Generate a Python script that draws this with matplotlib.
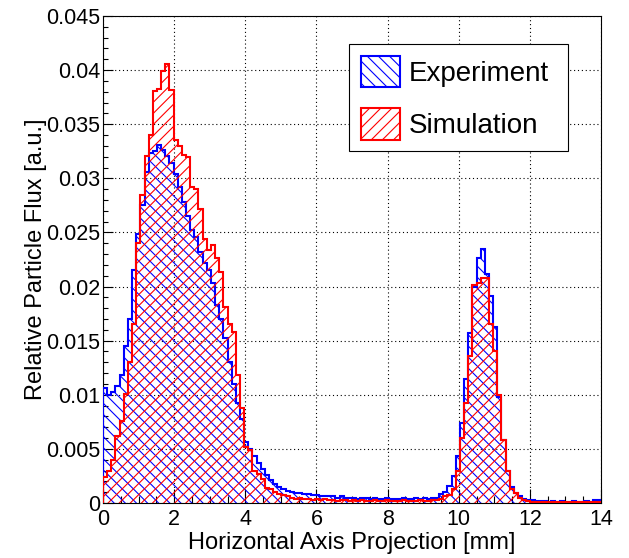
import numpy as np
import matplotlib
matplotlib.use('Agg')
import matplotlib.pyplot as plt
from matplotlib.patches import Patch
from matplotlib.ticker import MultipleLocator, FuncFormatter

# histogram range: 120 bins over 0..14 mm
x_min, x_max, n_bins = 0.0, 14.0, 120

experiment = [
    0.0106, 0.0100, 0.0103, 0.0108, 0.0118, 0.0145, 0.0170, 0.0215, 0.0249, 0.0275,
    0.0306, 0.0323, 0.0325, 0.0331, 0.0326, 0.0321, 0.0314, 0.0304, 0.0292, 0.0278,
    0.0265, 0.0252, 0.0246, 0.0232, 0.0222, 0.0215, 0.0203, 0.0183, 0.0170, 0.0152,
    0.0130, 0.0110, 0.0092, 0.0078, 0.0056, 0.0050, 0.0043, 0.0037, 0.0031, 0.0026,
    0.0021, 0.0018, 0.0015, 0.0013, 0.0011, 0.0010, 0.0009, 0.0009, 0.0008, 0.0008,
    0.0007, 0.0007, 0.0006, 0.0006, 0.0006, 0.0006, 0.0005, 0.0006, 0.0005, 0.0005,
    0.0005, 0.0004, 0.0005, 0.0005, 0.0004, 0.0005, 0.0004, 0.0004, 0.0005, 0.0004,
    0.0004, 0.0004, 0.0005, 0.0004, 0.0004, 0.0005, 0.0004, 0.0005, 0.0004, 0.0005,
    0.0005, 0.0008, 0.0010, 0.0016, 0.0025, 0.0043, 0.0074, 0.0115, 0.0157, 0.0200,
    0.0226, 0.0235, 0.0212, 0.0191, 0.0163, 0.0098, 0.0058, 0.0030, 0.0015, 0.0009,
    0.0006, 0.0004, 0.0003, 0.0003, 0.0002, 0.0002, 0.0002, 0.0001, 0.0002, 0.0001,
    0.0002, 0.0001, 0.0001, 0.0002, 0.0001, 0.0001, 0.0002, 0.0001, 0.0003, 0.0003,
]

simulation = [
    0.0024, 0.0030, 0.0040, 0.0062, 0.0076, 0.0101, 0.0130, 0.0165, 0.0240, 0.0285,
    0.0321, 0.0340, 0.0381, 0.0383, 0.0399, 0.0406, 0.0382, 0.0335, 0.0330, 0.0322,
    0.0320, 0.0292, 0.0290, 0.0272, 0.0244, 0.0234, 0.0238, 0.0226, 0.0213, 0.0181,
    0.0165, 0.0158, 0.0118, 0.0088, 0.0052, 0.0049, 0.0030, 0.0027, 0.0022, 0.0014,
    0.0013, 0.0010, 0.0008, 0.0007, 0.0006, 0.0005, 0.0004, 0.0005, 0.0004, 0.0004,
    0.0003, 0.0004, 0.0003, 0.0004, 0.0003, 0.0003, 0.0002, 0.0003, 0.0003, 0.0002,
    0.0003, 0.0002, 0.0003, 0.0002, 0.0002, 0.0003, 0.0002, 0.0002, 0.0003, 0.0002,
    0.0002, 0.0002, 0.0003, 0.0002, 0.0002, 0.0002, 0.0003, 0.0002, 0.0002, 0.0003,
    0.0003, 0.0004, 0.0006, 0.0007, 0.0013, 0.0030, 0.0060, 0.0092, 0.0136, 0.0201,
    0.0203, 0.0208, 0.0208, 0.0165, 0.0140, 0.0100, 0.0058, 0.0030, 0.0013, 0.0009,
    0.0005, 0.0003, 0.0002, 0.0001, 0.0001, 0.0001, 0.0001, 0.0001, 0.0001, 0.0001,
    0.0001, 0.0001, 0.0001, 0.0001, 0.0001, 0.0001, 0.0001, 0.0001, 0.0001, 0.0001,
]

labels = ['Experiment', 'Simulation']
colors = ['blue', 'red']
hatches = ['\\\\\\', '///']

edges = np.linspace(x_min, x_max, n_bins + 1)

plt.rcParams['font.family'] = ['Liberation Sans', 'DejaVu Sans']
plt.rcParams['hatch.linewidth'] = 0.8

fig = plt.figure(figsize=(6.29, 5.58), dpi=100)
ax = fig.add_axes([0.1638, 0.0986, 0.7917, 0.8727])

for vals, col, hat in zip([experiment, simulation], colors, hatches):
    ax.stairs(vals, edges, fill=True, facecolor='none', edgecolor=col,
              hatch=hat, linewidth=1.5, zorder=3)

ax.set_xlim(x_min, x_max)
ax.set_ylim(0, 0.045)

ax.xaxis.set_major_locator(MultipleLocator(2))
ax.xaxis.set_minor_locator(MultipleLocator(0.5))
ax.yaxis.set_major_locator(MultipleLocator(0.005))
ax.yaxis.set_minor_locator(MultipleLocator(0.001))
fmt = FuncFormatter(lambda v, _: f'{round(v, 6):g}')
ax.xaxis.set_major_formatter(fmt)
ax.yaxis.set_major_formatter(fmt)

ax.tick_params(which='both', direction='in', top=False, right=False, labelsize=15.5, width=0.8)
ax.tick_params(axis='x', which='major', length=10, pad=4)
ax.tick_params(axis='x', which='minor', length=5)
ax.tick_params(axis='y', which='major', length=7, pad=2)
ax.tick_params(axis='y', which='minor', length=3.5)

ax.grid(True, which='major', color='black', linestyle=(0, (1, 2.5)), linewidth=0.8, zorder=1)
for s in ax.spines.values():
    s.set_linewidth(0.8)

ax.set_xlabel('Horizontal Axis Projection [mm]', fontsize=17)
ax.xaxis.set_label_coords(0.5, -0.06)
ax.set_ylabel('Relative Particle Flux [a.u.]', fontsize=17)
ax.yaxis.set_label_coords(-0.112, 0.5)

handles = [Patch(facecolor='white', edgecolor=c, hatch=h, linewidth=1.5, label=l)
           for c, h, l in zip(colors, hatches, labels)]
leg = ax.legend(handles=handles, loc='upper left', bbox_to_anchor=(0.494, 0.725, 0.44, 0.2175),
                mode='expand', fontsize=20, frameon=True, fancybox=False, edgecolor='black',
                framealpha=1, borderaxespad=0, handlelength=1.4, handleheight=1.37,
                handletextpad=0.32, labelspacing=0.75, borderpad=0.42)
leg.get_frame().set_linewidth(0.8)
leg.set_zorder(5)

fig.savefig('out.png', dpi=100)
